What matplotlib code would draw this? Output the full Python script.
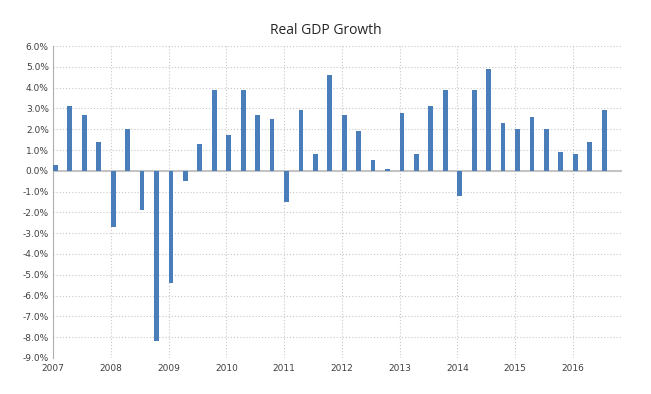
import matplotlib.pyplot as plt
from matplotlib.ticker import FuncFormatter

# quarterly real GDP growth, 2007 Q1 .. 2016 Q3 (annualised %)
years = [2007, 2008, 2009, 2010, 2011, 2012, 2013, 2014, 2015, 2016]
growth = [0.3, 3.1, 2.7, 1.4,
          -2.7, 2.0, -1.9, -8.2,
          -5.4, -0.5, 1.3, 3.9,
          1.7, 3.9, 2.7, 2.5,
          -1.5, 2.9, 0.8, 4.6,
          2.7, 1.9, 0.5, 0.1,
          2.8, 0.8, 3.1, 3.9,
          -1.2, 3.9, 4.9, 2.3,
          2.0, 2.6, 2.0, 0.9,
          0.8, 1.4, 2.9]

fig = plt.figure(figsize=(6.51, 3.94), dpi=100)
ax = fig.add_axes([0.0814, 0.0914, 0.8741, 0.7918])

x = list(range(len(growth)))
ax.bar(x, growth, width=0.33, align='edge', color='#4A7EBB', zorder=3)

ax.set_ylim(-9, 6)
ax.set_xlim(0, 39.4)
ax.set_yticks(range(-9, 7))
ax.yaxis.set_major_formatter(FuncFormatter(lambda v, p: '%.1f%%' % v))
ax.set_xticks([4 * i for i in range(len(years))])
ax.set_xticklabels([str(y) for y in years])

ax.grid(True, color='#C8C8C8', linestyle=(0, (1, 1.8)), linewidth=0.8, zorder=0)
ax.axhline(0, color='#C4C4C4', linewidth=1.5, zorder=2)
for s in ['top', 'right', 'bottom']:
    ax.spines[s].set_visible(False)
ax.spines['left'].set_color('#B0B0B0')
ax.tick_params(length=0, labelsize=6.5, colors='#404040', pad=4)
ax.tick_params(axis='y', pad=3)

fig.text(0.5, 0.922, 'Real GDP Growth', ha='center', va='center',
         fontsize=10, color='#262626', family='Open Sans')

fig.savefig('out.png', dpi=100)
